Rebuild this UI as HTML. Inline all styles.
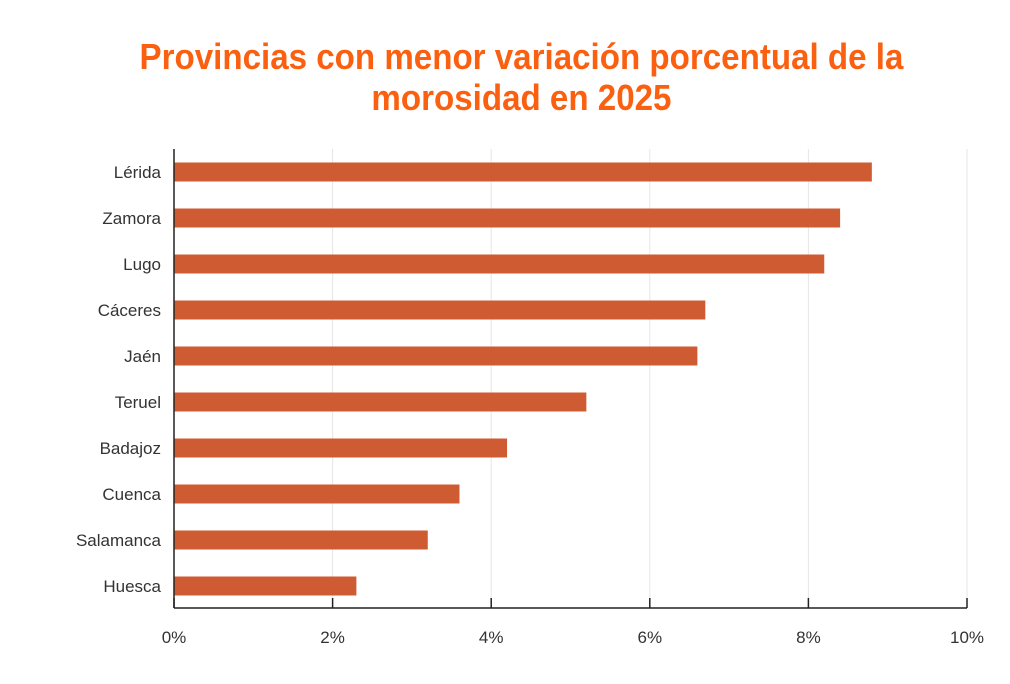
<!DOCTYPE html>
<html><head><meta charset="utf-8"><style>
body{margin:0;background:#fff;width:1010px;height:684px;overflow:hidden}
#title{position:absolute;left:0;top:36px;width:1043px;text-align:center;color:#fb6010;font-family:"Liberation Sans Narrow","Liberation Sans",sans-serif;font-weight:bold;font-size:36px;line-height:41px;transform:scaleX(0.92);transform-origin:521px 0}
svg{position:absolute;left:0;top:0}
</style></head><body>
<div id="title">Provincias con menor variación porcentual de la<br>morosidad en 2025</div>
<svg id="c" width="1010" height="684"></svg>
<script>
const categories=["Lérida","Zamora","Lugo","Cáceres","Jaén","Teruel","Badajoz","Cuenca","Salamanca","Huesca"];
const values=[8.8,8.4,8.2,6.7,6.6,5.2,4.2,3.6,3.2,2.3];
const ticks=[0,2,4,6,8,10];
const tickLabels=["0%","2%","4%","6%","8%","10%"];
const svg=document.getElementById('c');const NS='http://www.w3.org/2000/svg';
const X0=174,X1=967,PTOP=149,PBOT=608;
const xs=v=>X0+(X1-X0)*v/10;
const yc=i=>172+i*46;
function mk(t,a){const e=document.createElementNS(NS,t);for(const k in a)e.setAttribute(k,a[k]);svg.appendChild(e);return e;}
ticks.forEach((t,i)=>{
 if(i>0){const g=mk('line',{x1:xs(t),x2:xs(t),y1:PTOP,y2:PBOT,stroke:'#e6e6e6','stroke-width':1});
 
 }
 const tk=mk('line',{x1:xs(t),x2:xs(t),y1:598,y2:PBOT,stroke:'#222','stroke-width':1.5});
 
 
 const l=mk('text',{x:xs(t),y:643,'text-anchor':'middle','font-family':'Liberation Sans, sans-serif','font-size':17,fill:'#333'});
 l.textContent=tickLabels[i];
 
 
});
categories.forEach((c,i)=>{
 const b=mk('rect',{x:X0,y:yc(i)-9.5,width:xs(values[i])-X0,height:19,fill:'#cf5b33'});
 
 
 const l=mk('text',{x:161,y:yc(i)+6,'text-anchor':'end','font-family':'Liberation Sans, sans-serif','font-size':17,fill:'#333'});
 l.textContent=c;
 
 
});
const ax=mk('line',{x1:X0,x2:X0,y1:PTOP,y2:PBOT,stroke:'#222','stroke-width':1.5});


const ax2=mk('line',{x1:X0,x2:X1,y1:PBOT,y2:PBOT,stroke:'#222','stroke-width':1.5});


</script>
</body></html>
